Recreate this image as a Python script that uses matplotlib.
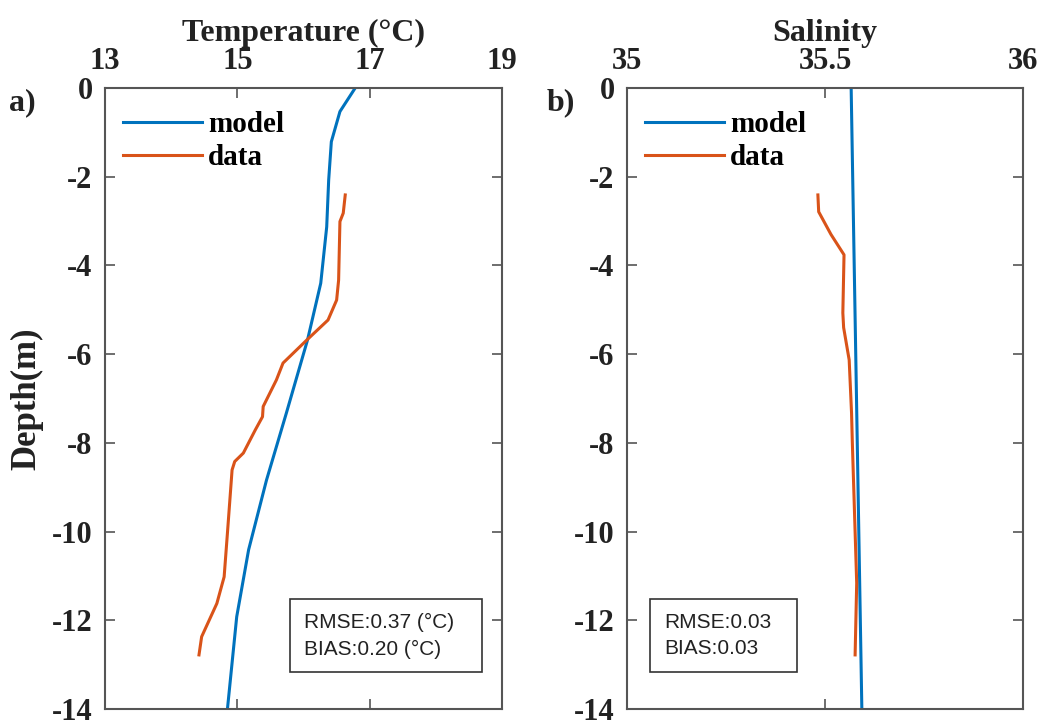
import matplotlib
matplotlib.use('Agg')
import matplotlib.pyplot as plt
from matplotlib.patches import Rectangle

plt.rcParams['axes.unicode_minus'] = False

# temperature profiles (depth in m, temp in degC)
model_depth_T = [0, -0.53, -1.21, -2.07, -3.13, -4.4, -5.68, -7.33, -8.84, -10.41, -11.92, -14]
model_T = [16.78, 16.55, 16.42, 16.38, 16.35, 16.26, 16.06, 15.74, 15.44, 15.17, 14.99, 14.85]
data_depth_T = [-2.41, -2.82, -3.01, -4.33, -4.78, -5.23, -5.68, -6.2, -6.58, -7.18, -7.41,
                -7.71, -8.23, -8.42, -8.61, -10.03, -11.02, -11.62, -12.37, -12.78]
data_T = [16.63, 16.60, 16.55, 16.53, 16.50, 16.37, 16.05, 15.69, 15.59, 15.39, 15.38,
          15.27, 15.09, 14.96, 14.92, 14.85, 14.80, 14.69, 14.46, 14.42]

# salinity profiles
model_depth_S = [0, -14]
model_S = [35.566, 35.593]
data_depth_S = [-2.41, -2.79, -3.3, -3.76, -5.07, -5.4, -6.13, -7.33, -8.0, -11.16, -12.78]
data_S = [35.482, 35.484, 35.515, 35.548, 35.545, 35.547, 35.561, 35.567, 35.569, 35.580, 35.576]

T_ticks = [13, 15, 17, 19]
S_ticks = [35, 35.5, 36]
S_ticklabels = ['35', '35.5', '36']
depth_ticks = [0, -2, -4, -6, -8, -10, -12, -14]

blue = '#0072BD'
orange = '#D95319'
spine_c = '#555555'
txt_c = '#222222'
serif = 'Liberation Serif'
sans = 'Liberation Sans'

fig = plt.figure(figsize=(10.44, 7.24), dpi=100)
ax1 = fig.add_axes([0.1006, 0.0207, 0.3803, 0.8577])
ax2 = fig.add_axes([0.6006, 0.0207, 0.3793, 0.8577])


def style(ax, xticks, xlabels, xlim, title):
    ax.set_xlim(xlim)
    ax.set_ylim(-14, 0)
    ax.set_xticks(xticks)
    ax.set_xticklabels(xlabels)
    ax.set_yticks(depth_ticks)
    ax.xaxis.tick_top()
    ax.xaxis.set_label_position('top')
    ax.tick_params(axis='both', direction='in', length=7, width=1.2, color=spine_c,
                   top=True, bottom=True, left=True, right=True, labelsize=22, pad=9)
    for lbl in ax.get_xticklabels() + ax.get_yticklabels():
        lbl.set_fontfamily(serif)
        lbl.set_fontweight('bold')
        lbl.set_color(txt_c)
    for s in ax.spines.values():
        s.set_color(spine_c)
        s.set_linewidth(1.5)
    ax.set_xlabel(title, fontsize=23, fontweight='bold', family=serif, color=txt_c, labelpad=4)
    ax.legend(loc='upper left', frameon=False, handlelength=2.7, handletextpad=0.22,
              labelspacing=0.2, borderpad=0, borderaxespad=0,
              bbox_to_anchor=(0.045, 0.963),
              prop={'family': serif, 'weight': 'bold', 'size': 21})


ax1.plot(model_T, model_depth_T, color=blue, lw=2.2, label='model')
ax1.plot(data_T, data_depth_T, color=orange, lw=2.2, label='data')
style(ax1, T_ticks, [str(t) for t in T_ticks], (13, 19), 'Temperature (°C)')
ax1.set_ylabel('Depth(m)', fontsize=25, fontweight='bold', family=serif, color=txt_c, labelpad=6)

ax2.plot(model_S, model_depth_S, color=blue, lw=2.2, label='model')
ax2.plot(data_S, data_depth_S, color=orange, lw=2.2, label='data')
style(ax2, S_ticks, S_ticklabels, (35, 36), 'Salinity')

# stats boxes
ax1.add_patch(Rectangle((0.466, 0.060), 0.483, 0.117, transform=ax1.transAxes,
                        fill=False, ec='#333333', lw=1.2))
ax1.text(0.501, 0.118, 'RMSE:0.37 (°C)\nBIAS:0.20 (°C)', transform=ax1.transAxes,
         family=sans, fontsize=15, va='center', ha='left', linespacing=1.5, color=txt_c)
ax2.add_patch(Rectangle((0.058, 0.060), 0.371, 0.117, transform=ax2.transAxes,
                        fill=False, ec='#333333', lw=1.2))
ax2.text(0.093, 0.118, 'RMSE:0.03\nBIAS:0.03', transform=ax2.transAxes,
         family=sans, fontsize=15, va='center', ha='left', linespacing=1.5, color=txt_c)

fig.text(0.009, 0.848, 'a)', family=serif, fontweight='bold', fontsize=23, color=txt_c)
fig.text(0.524, 0.848, 'b)', family=serif, fontweight='bold', fontsize=23, color=txt_c)

fig.savefig('out.png', dpi=100)
